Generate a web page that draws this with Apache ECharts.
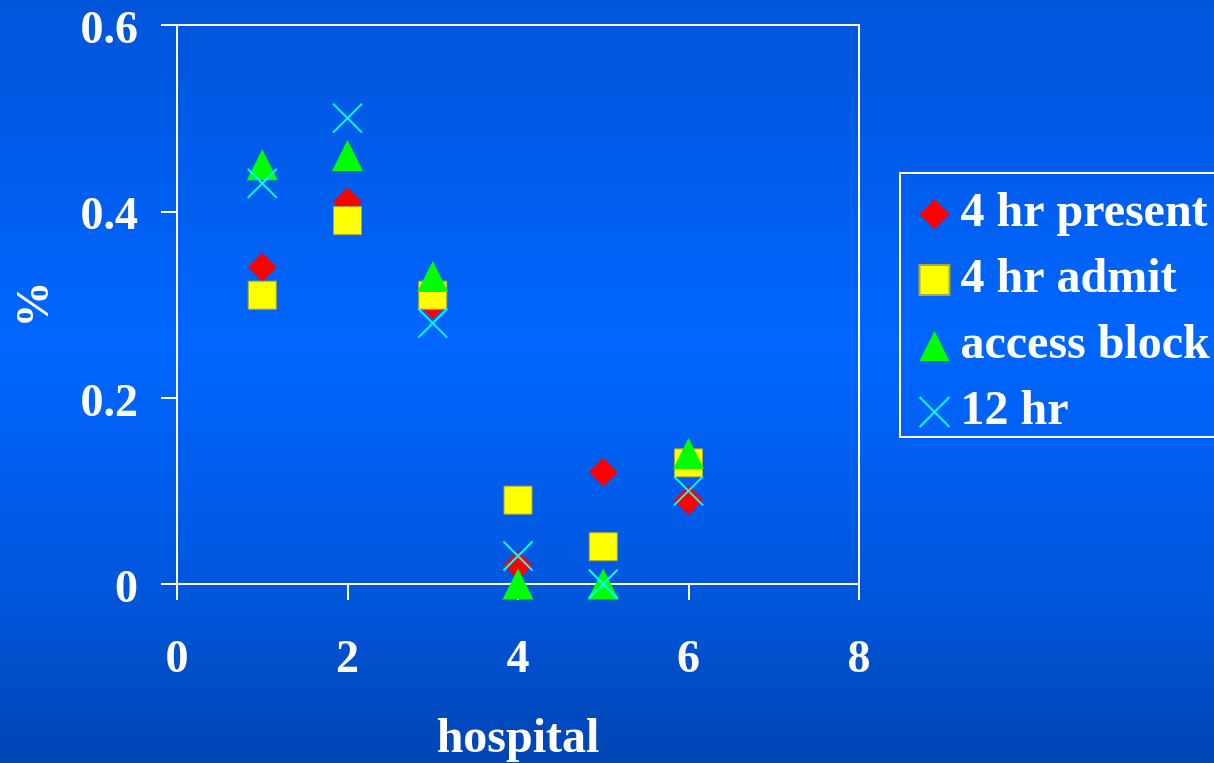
<!DOCTYPE html>
<html>
<head>
<meta charset="utf-8">
<script src="https://cdn.jsdelivr.net/npm/echarts@6/dist/echarts.min.js"></script>
<style>
  html, body { margin: 0; padding: 0; }
  #chart { width: 1214px; height: 763px; }
</style>
</head>
<body>
<div id="chart"></div>
<script>
// Hospital numbers on the x axis
const hospitals = [1, 2, 3, 4, 5, 6];

// Share (%) per hospital for each measure
const present4hr = [0.34, 0.41, 0.30, 0.02, 0.12, 0.09];
const admit4hr   = [0.31, 0.39, 0.31, 0.09, 0.04, 0.13];
const accessBlock = [0.45, 0.46, 0.33, 0.00, 0.00, 0.14];
const hr12       = [0.43, 0.50, 0.28, 0.03, 0.00, 0.10];

const seriesNames = ['4 hr present', '4 hr admit', 'access block', '12 hr'];
const xTicks = [0, 2, 4, 6, 8];
const yTicks = [0, 0.2, 0.4, 0.6];

const FONT = '"Liberation Serif", "Times New Roman", serif';
const CROSS = 'path://M0,0L10,10M10,0L0,10';

function pairs(vals) {
  return hospitals.map((h, i) => [h, vals[i]]);
}

const chart = echarts.init(document.getElementById('chart'), null, { renderer: 'canvas' });

chart.setOption({
  animation: false,
  backgroundColor: {
    type: 'linear', x: 0, y: 0, x2: 0, y2: 1,
    colorStops: [
      { offset: 0, color: '#0055da' },
      { offset: 0.45, color: '#0066ff' },
      { offset: 0.75, color: '#0058e0' },
      { offset: 1, color: '#0045b5' }
    ]
  },
  textStyle: { fontFamily: FONT },
  grid: {
    left: 177, top: 25, right: 355, bottom: 179,
    show: true, borderColor: '#ffffff', borderWidth: 2,
    backgroundColor: 'transparent', containLabel: false,
    outerBoundsMode: 'none'
  },
  legend: {
    orient: 'vertical',
    left: 900, top: 173,
    padding: [17, 30, 1, 17],
    borderColor: '#ffffff', borderWidth: 2,
    itemWidth: 30, itemHeight: 30, itemGap: 18,
    textStyle: {
      color: '#ffffff', fontFamily: FONT, fontWeight: 'bold',
      fontSize: 48, lineHeight: 48, padding: [0, 0, 0, 6]
    },
    data: [
      { name: seriesNames[0], icon: 'diamond' },
      { name: seriesNames[1], icon: 'rect' },
      { name: seriesNames[2], icon: 'triangle' },
      { name: seriesNames[3], icon: CROSS }
    ]
  },
  xAxis: {
    type: 'value', min: xTicks[0], max: xTicks[xTicks.length - 1], interval: 2,
    name: 'hospital', nameLocation: 'middle', nameGap: 132, nameMoveOverlap: false,
    nameTextStyle: { color: '#ffffff', fontSize: 48, fontWeight: 'bold', fontFamily: FONT },
    axisLine: { show: true, onZero: false, lineStyle: { color: '#ffffff', width: 2 } },
    axisTick: { show: true, inside: false, length: 16, lineStyle: { color: '#ffffff', width: 2 } },
    axisLabel: { color: '#ffffff', fontSize: 46, fontWeight: 'bold', fontFamily: FONT, margin: 53 },
    splitLine: { show: false }
  },
  yAxis: {
    type: 'value', min: yTicks[0], max: yTicks[yTicks.length - 1], interval: 0.2,
    name: '%', nameLocation: 'middle', nameGap: 118, nameRotate: 90, nameMoveOverlap: false,
    nameTextStyle: { color: '#ffffff', fontSize: 46, fontWeight: 'bold', fontFamily: FONT },
    axisLine: { show: true, onZero: false, lineStyle: { color: '#ffffff', width: 2 } },
    axisTick: { show: true, inside: false, length: 16, lineStyle: { color: '#ffffff', width: 2 } },
    axisLabel: {
      color: '#ffffff', fontSize: 46, fontWeight: 'bold', fontFamily: FONT, margin: 39,
      lineHeight: 12, verticalAlign: 'top',
      formatter: v => (v === 0 ? '0' : v.toFixed(1))
    },
    splitLine: { show: false }
  },
  series: [
    {
      name: seriesNames[0], type: 'scatter', data: pairs(present4hr),
      symbol: 'diamond', symbolSize: 29,
      itemStyle: { color: '#ff0000', opacity: 1 }
    },
    {
      name: seriesNames[1], type: 'scatter', data: pairs(admit4hr),
      symbol: 'rect', symbolSize: 28,
      itemStyle: { color: '#ffff00', borderColor: '#a8a838', borderWidth: 1, opacity: 1 }
    },
    {
      name: seriesNames[2], type: 'scatter', data: pairs(accessBlock),
      symbol: 'triangle', symbolSize: 31,
      itemStyle: { color: '#00ff00', opacity: 1 }
    },
    {
      name: seriesNames[3], type: 'scatter', data: pairs(hr12),
      symbol: CROSS, symbolSize: 29,
      itemStyle: { color: 'none', borderColor: '#00ffff', borderWidth: 2, opacity: 1 }
    }
  ]
});
</script>
</body>
</html>
